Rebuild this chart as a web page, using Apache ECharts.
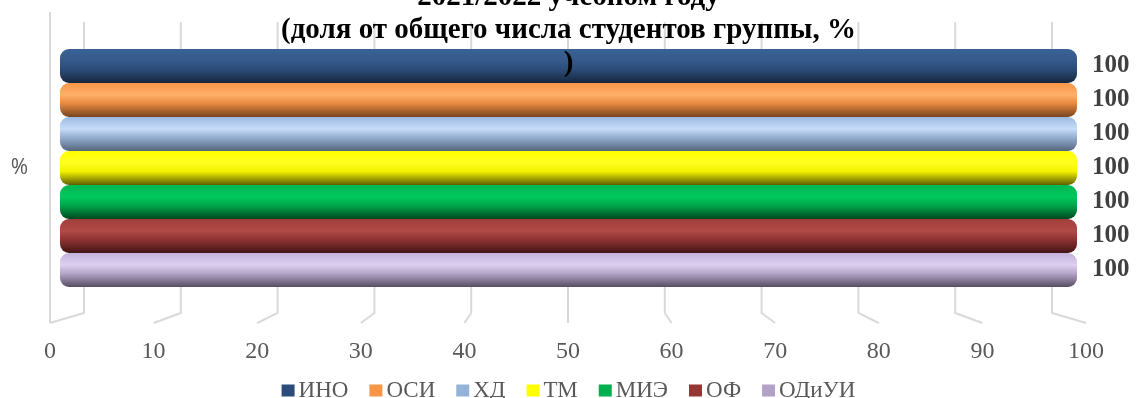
<!DOCTYPE html>
<html>
<head>
<meta charset="utf-8">
<script src="https://cdn.jsdelivr.net/npm/echarts@6.0.0/dist/echarts.min.js"></script>
<style>
  html, body { margin: 0; padding: 0; background: #ffffff; }
  #chart { width: 1137px; height: 398px; }
</style>
</head>
<body>
<div id="chart"></div>
<script>
// Single category, one bar per group
const categories = ['%'];
const groups = ['ИНО', 'ОСИ', 'ХД', 'ТМ', 'МИЭ', 'ОФ', 'ОДиУИ'];
const shares = [100, 100, 100, 100, 100, 100, 100];
const tickValues = [0, 10, 20, 30, 40, 50, 60, 70, 80, 90, 100];

// Cylinder shading per group: [top, highlight, body, shadow]
const shades = [
  ['#3a6294', '#34598a', '#2c4c78', '#17263d'],
  ['#f79646', '#ffb06a', '#e88a40', '#774420'],
  ['#9ab9e2', '#c7ddf8', '#94afd2', '#55657c'],
  ['#ffff00', '#ffff20', '#f2f200', '#5e5e00'],
  ['#00b753', '#00c85c', '#00a64b', '#004820'],
  ['#a13e3c', '#b04a47', '#8e3432', '#431414'],
  ['#c2b1db', '#ddd0f0', '#b5a6c9', '#564d63']
];
const legendColors = ['#2c4d79', '#f79646', '#95b3d7', '#ffff00', '#00b050', '#953735', '#b3a2c7'];

const serif = '"Liberation Serif", "Times New Roman", serif';
const GRID_LINE = '#d9d9d9';
const DEPTH_SCALE = 968 / 1036;   // back wall width relative to the front floor edge
const FLOOR_DEPTH = 10;           // px between front floor edge and back wall
const WALL_TOP_INSET = 10;        // back wall starts a little below the side wall top

const chart = echarts.init(document.getElementById('chart'), null, { renderer: 'canvas' });

function cylinder(s) {
  return {
    type: 'linear', x: 0, y: 0, x2: 0, y2: 1,
    colorStops: [
      { offset: 0, color: s[0] },
      { offset: 0.35, color: s[1] },
      { offset: 0.6, color: s[2] },
      { offset: 1, color: s[3] }
    ]
  };
}

// Walls and floor lines of the 3D frame, one per axis tick
const frameSeries = {
  type: 'custom',
  xAxisIndex: 0,
  yAxisIndex: 0,
  z: 1,
  silent: true,
  data: tickValues.map(v => [v, 0]),
  renderItem(params, api) {
    const v = api.value(0);
    const front = api.coord([v, 0]);
    const cs = params.coordSys;
    const cx = cs.x + cs.width / 2;
    const backX = cx + (front[0] - cx) * DEPTH_SCALE;
    const backTop = cs.y + WALL_TOP_INSET;
    const backBottom = front[1] - FLOOR_DEPTH;
    const style = { stroke: GRID_LINE, lineWidth: 2, fill: null };
    const children = [{
      type: 'polyline',
      shape: { points: [[backX, backTop], [backX, backBottom], [front[0], front[1]]] },
      style
    }];
    if (params.dataIndex === 0) {
      const top = api.coord([v, 1]);
      children.push({ type: 'line', shape: { x1: front[0], y1: top[1], x2: front[0], y2: front[1] }, style });
    }
    return { type: 'group', children };
  }
};

const barSeries = groups.map((name, i) => ({
  name,
  type: 'bar',
  xAxisIndex: 1,
  yAxisIndex: 1,
  z: 3,
  barWidth: 34,
  barGap: '0%',
  data: [shares[i]],
  itemStyle: { color: cylinder(shades[i]), borderRadius: 9 },
  label: {
    show: true,
    position: 'right',
    distance: 15,
    formatter: '{c}',
    fontFamily: serif,
    fontWeight: 'bold',
    fontSize: 25,
    color: '#404040'
  }
}));

chart.setOption({
  animation: false,
  backgroundColor: '#ffffff',
  title: {
    text: '2021/2022 учебном году\n(доля от общего числа студентов группы, %\n)',
    left: 'center',
    top: -19,
    padding: 0,
    textStyle: {
      fontFamily: serif,
      fontWeight: 'bold',
      fontSize: 29,
      lineHeight: 33,
      color: '#000000'
    }
  },
  legend: {
    top: 374,
    left: 'center',
    icon: 'rect',
    itemWidth: 13,
    itemHeight: 12,
    itemGap: 21,
    textStyle: { fontFamily: serif, fontSize: 23, color: '#595959', padding: [0, 0, 0, -1] },
    data: groups.map((name, i) => ({ name, itemStyle: { color: legendColors[i] } }))
  },
  grid: [
    { left: 50, top: 12, width: 1036, height: 311 },   // front floor edge and frame
    { left: 60, top: 48, width: 1017, height: 240 }    // cylinders
  ],
  xAxis: [
    {
      gridIndex: 0, type: 'value', min: 0, max: 100, interval: 10,
      axisLine: { show: false }, axisTick: { show: false }, splitLine: { show: false },
      axisLabel: { margin: 17, fontFamily: serif, fontSize: 24, color: '#595959' }
    },
    {
      gridIndex: 1, type: 'value', min: 0, max: 100, show: false
    }
  ],
  yAxis: [
    { gridIndex: 0, type: 'value', min: 0, max: 1, show: false },
    {
      gridIndex: 1, type: 'category', data: categories, inverse: true,
      axisLine: { show: false }, axisTick: { show: false },
      axisLabel: { margin: 32, fontFamily: '"Open Sans", "Liberation Sans", sans-serif', fontSize: 21, color: '#595959' }
    }
  ],
  series: [frameSeries, ...barSeries]
});
</script>
</body>
</html>
